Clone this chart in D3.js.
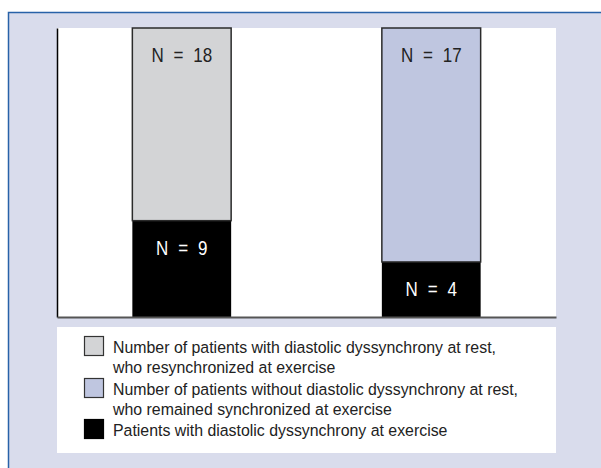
<!DOCTYPE html>
<meta charset="utf-8">
<style>
body { margin: 0; background: #fff; }
text { font-family: "Liberation Sans Narrow", "Liberation Sans", Arial, sans-serif; }
</style>
<body>
<script src="https://d3js.org/d3.v7.min.js"></script>
<script>
var groups = ["dyssynchrony at rest", "no dyssynchrony at rest"];
var restValues = [18, 17];      // top segment (grey / blue)
var exerciseValues = [9, 4];    // black segment
var legendLines = [
  ["Number of patients with diastolic dyssynchrony at rest,", "who resynchronized at exercise"],
  ["Number of patients without diastolic dyssynchrony at rest,", "who remained synchronized at exercise"],
  ["Patients with diastolic dyssynchrony at exercise"]
];

var topColors = ["#d3d4d6", "#bfc6e0"];

var W = 601, H = 468;
var plot = {left: 57, right: 556, top: 28, bottom: 317};
var narrow = 0.85;   // fake the condensed face

var svg = d3.select("body").append("svg")
    .attr("width", W)
    .attr("height", H);

// panel background + blue frame
svg.append("rect")
    .attr("x", 9).attr("y", 13)
    .attr("width", W - 9).attr("height", H - 13)
    .attr("fill", "#d9dcec");
svg.append("path")
    .attr("d", "M8.5," + H + "V12.5H" + W)
    .attr("fill", "none")
    .attr("stroke", "#2862a8")
    .attr("stroke-width", 1.5);

// white plot area
svg.append("rect")
    .attr("x", plot.left).attr("y", plot.top)
    .attr("width", plot.right - plot.left).attr("height", plot.bottom - plot.top)
    .attr("fill", "#fff");

var data = groups.map(function(g, i) {
  return {group: g, exercise: exerciseValues[i], rest: restValues[i]};
});

var stack = d3.stack()
    .keys(["exercise", "rest"])
    .offset(d3.stackOffsetExpand);
var series = stack(data);

var x = d3.scaleBand()
    .domain(groups)
    .range([plot.left, plot.right])
    .paddingInner(0.6)
    .paddingOuter(0.3);

var y = d3.scaleLinear()
    .domain([0, 1])
    .range([plot.bottom, plot.top]);

var layer = svg.selectAll(".layer")
    .data(series)
  .enter().append("g")
    .attr("class", "layer");

function cells(s) {
  return s.map(function(d, i) { return {key: s.key, d: d, i: i}; });
}

layer.selectAll("rect")
    .data(cells)
  .enter().append("rect")
    .attr("x", function(e) { return x(e.d.data.group) + 0.5; })
    .attr("y", function(e) { return y(e.d[1]); })
    .attr("width", x.bandwidth() - 1)
    .attr("height", function(e) { return y(e.d[0]) - y(e.d[1]); })
    .attr("fill", function(e) { return e.key == "exercise" ? "#000" : topColors[e.i]; })
    .attr("stroke", function(e) { return e.key == "exercise" ? "none" : "#2b2b2b"; })
    .attr("stroke-width", 1.5);

layer.selectAll("text")
    .data(cells)
  .enter().append("text")
    .attr("transform", function(e) {
      return "translate(" + (x(e.d.data.group) + x.bandwidth() / 2) + "," + (y(e.d[1]) + 34) + ") scale(" + narrow + ",1)";
    })
    .attr("text-anchor", "middle")
    .attr("font-size", 20)
    .attr("word-spacing", 6)
    .attr("fill", function(e) { return e.key == "exercise" ? "#fff" : "#222"; })
    .text(function(e) { return "N = " + e.d.data[e.key]; });

// axes (no ticks)
svg.append("g")
    .attr("transform", "translate(" + plot.left + ",0)")
    .call(d3.axisLeft(y).tickValues([]).tickSizeOuter(0))
    .select(".domain").attr("stroke", "#000").attr("stroke-width", 1.5);
svg.append("g")
    .attr("transform", "translate(0," + plot.bottom + ")")
    .call(d3.axisBottom(x).tickValues([]).tickSizeOuter(0))
    .select(".domain").attr("stroke", "#555").attr("stroke-width", 2);

// legend
var lg = svg.append("g");
lg.append("rect")
    .attr("x", plot.left).attr("y", 327)
    .attr("width", plot.right - plot.left).attr("height", 126)
    .attr("fill", "#fff");

var legendColors = [topColors[0], topColors[1], "#000"];
var lineY = [[353, 373], [395, 415], [436]];

legendLines.forEach(function(lines, k) {
  lg.append("rect")
    .attr("x", 84.5).attr("y", lineY[k][0] - 16.5)
    .attr("width", 19).attr("height", 19)
    .attr("fill", legendColors[k])
    .attr("stroke", k == 2 ? "#000" : "#333")
    .attr("stroke-width", 1.2);
  lines.forEach(function(t, j) {
    lg.append("text")
      .attr("transform", "translate(113," + lineY[k][j] + ") scale(0.935,1)")
      .attr("font-size", 17)
      .attr("fill", "#222")
      .text(t);
  });
});
</script>
</body>
